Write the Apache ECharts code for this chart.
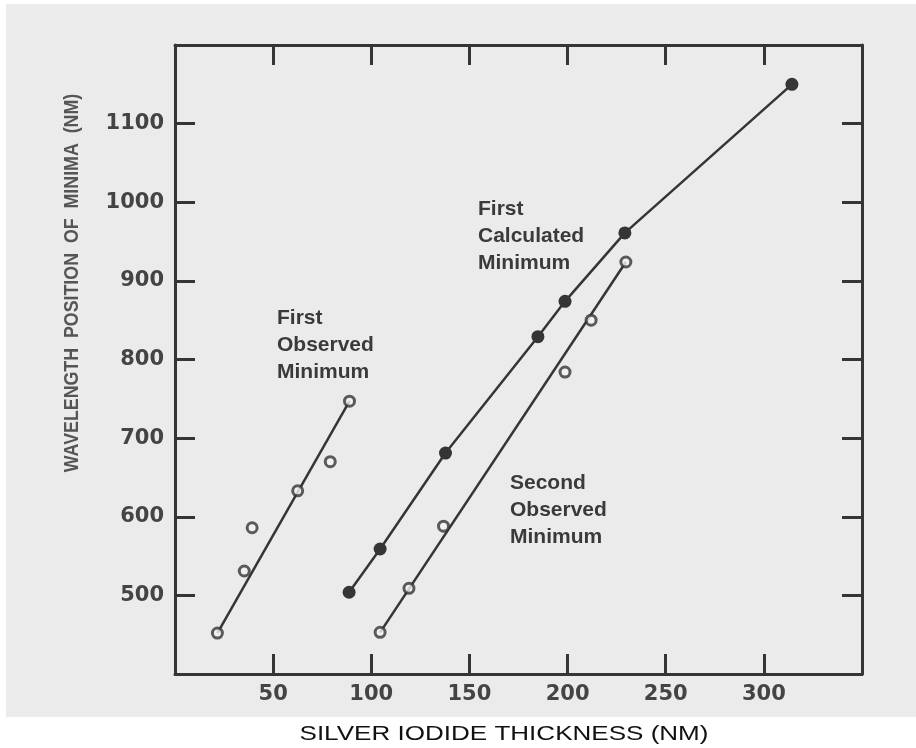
<!DOCTYPE html>
<html>
<head>
<meta charset="utf-8">
<script src="https://cdn.jsdelivr.net/npm/echarts@6/dist/echarts.min.js"></script>
<style>
html,body{margin:0;padding:0;background:#fff;}
#chart{width:916px;height:748px;}
</style>
</head>
<body>
<div id="chart"></div>
<script>
// ---- data ----
const xTickValues = [50, 100, 150, 200, 250, 300];
const yTickValues = [500, 600, 700, 800, 900, 1000, 1100];

// First observed minimum (open circles)
const firstObsX = [21.6, 35.3, 39.3, 62.5, 79.1, 88.9];
const firstObsY = [452, 531, 586, 633, 670, 747];
// straight line drawn through the first observed minima
const firstObsLineX = [21.6, 88.9];
const firstObsLineY = [452, 747];

// First calculated minimum (filled circles, joined)
const calcX = [88.7, 104.5, 137.8, 184.9, 198.7, 229.2, 314.3];
const calcY = [504, 559, 681, 829, 874, 961, 1150];

// Second observed minimum (open circles)
const secondObsX = [104.5, 119.2, 136.8, 198.7, 212.0, 229.7];
const secondObsY = [453, 509, 588, 784, 850, 924];
// straight line drawn through the second observed minima
const secondObsLineX = [104.5, 229.7];
const secondObsLineY = [453, 924];

const xTitle = 'SILVER IODIDE THICKNESS (NM)';
const yTitle = 'WAVELENGTH  POSITION  OF  MINIMA  (NM)';
const labels = [
  {text: 'First\nObserved\nMinimum', x: 277, y: 305},
  {text: 'First\nCalculated\nMinimum', x: 478, y: 196},
  {text: 'Second\nObserved\nMinimum', x: 510, y: 470}
];

const zip = (a, b) => a.map((v, i) => [v, b[i]]);

const ink = '#353535';
const axisCommon = {
  type: 'value',
  axisLine: {onZero: false, lineStyle: {color: ink, width: 3}},
  axisTick: {inside: true, length: 20, lineStyle: {color: ink, width: 3}},
  splitLine: {show: false}
};
const tickLabel = {
  fontFamily: 'DejaVu Sans', fontWeight: 'bold', fontSize: 21, color: '#444',
  showMinLabel: false, showMaxLabel: false
};

const chart = echarts.init(document.getElementById('chart'), null, {renderer: 'canvas'});
chart.setOption({
  backgroundColor: '#ffffff',
  animation: false,
  grid: {left: 175, top: 45, right: 54, bottom: 74, show: false},
  xAxis: [
    Object.assign({}, axisCommon, {position: 'bottom', min: 0, max: 350, interval: 50,
      axisLabel: Object.assign({}, tickLabel, {margin: 10,
        formatter: v => xTickValues.includes(v) ? String(v) : ''})}),
    Object.assign({}, axisCommon, {position: 'top', min: 0, max: 350, interval: 50,
      axisLabel: {show: false}})
  ],
  yAxis: [
    Object.assign({}, axisCommon, {position: 'left', min: 400, max: 1200, interval: 100,
      axisLabel: Object.assign({}, tickLabel, {margin: 11,
        formatter: v => yTickValues.includes(v) ? String(v) : ''})}),
    Object.assign({}, axisCommon, {position: 'right', min: 400, max: 1200, interval: 100,
      axisLabel: {show: false}})
  ],
  graphic: [
    {type: 'rect', z: -10, silent: true, shape: {x: 6, y: 4, width: 910, height: 713},
      style: {fill: '#ebebeb'}},
    {type: 'text', x: 72.5, y: 283, rotation: Math.PI / 2, scaleX: 0.89,
      style: {text: yTitle, font: 'bold 20px "Liberation Sans", Arial, sans-serif',
        fill: '#555', align: 'center', verticalAlign: 'middle'}},
    {type: 'text', x: 504, y: 734, scaleX: 1.24,
      style: {text: xTitle, font: '21px "Liberation Sans", Arial, sans-serif',
        fill: '#111', align: 'center', verticalAlign: 'middle'}}
  ].concat(labels.map(l => ({
    type: 'text', x: l.x, y: l.y, z: 5,
    style: {text: l.text, font: 'bold 21px "Liberation Sans", Arial, sans-serif',
      fill: '#3a3a3a', lineHeight: 27, align: 'left', verticalAlign: 'top'}
  }))),
  series: [
    {type: 'line', data: zip(firstObsLineX, firstObsLineY), showSymbol: false, z: 2,
      lineStyle: {color: ink, width: 2.5}},
    {type: 'line', data: zip(secondObsLineX, secondObsLineY), showSymbol: false, z: 2,
      lineStyle: {color: ink, width: 2.5}},
    {type: 'line', data: zip(calcX, calcY), symbol: 'circle', symbolSize: 13, z: 3,
      itemStyle: {color: ink}, lineStyle: {color: ink, width: 2.5}},
    {type: 'scatter', data: zip(firstObsX, firstObsY), symbol: 'circle', symbolSize: 10, z: 4,
      itemStyle: {color: '#f2f2f2', borderColor: ink, borderWidth: 3}},
    {type: 'scatter', data: zip(secondObsX, secondObsY), symbol: 'circle', symbolSize: 10, z: 4,
      itemStyle: {color: '#f2f2f2', borderColor: ink, borderWidth: 3}}
  ]
});
</script>
</body>
</html>
